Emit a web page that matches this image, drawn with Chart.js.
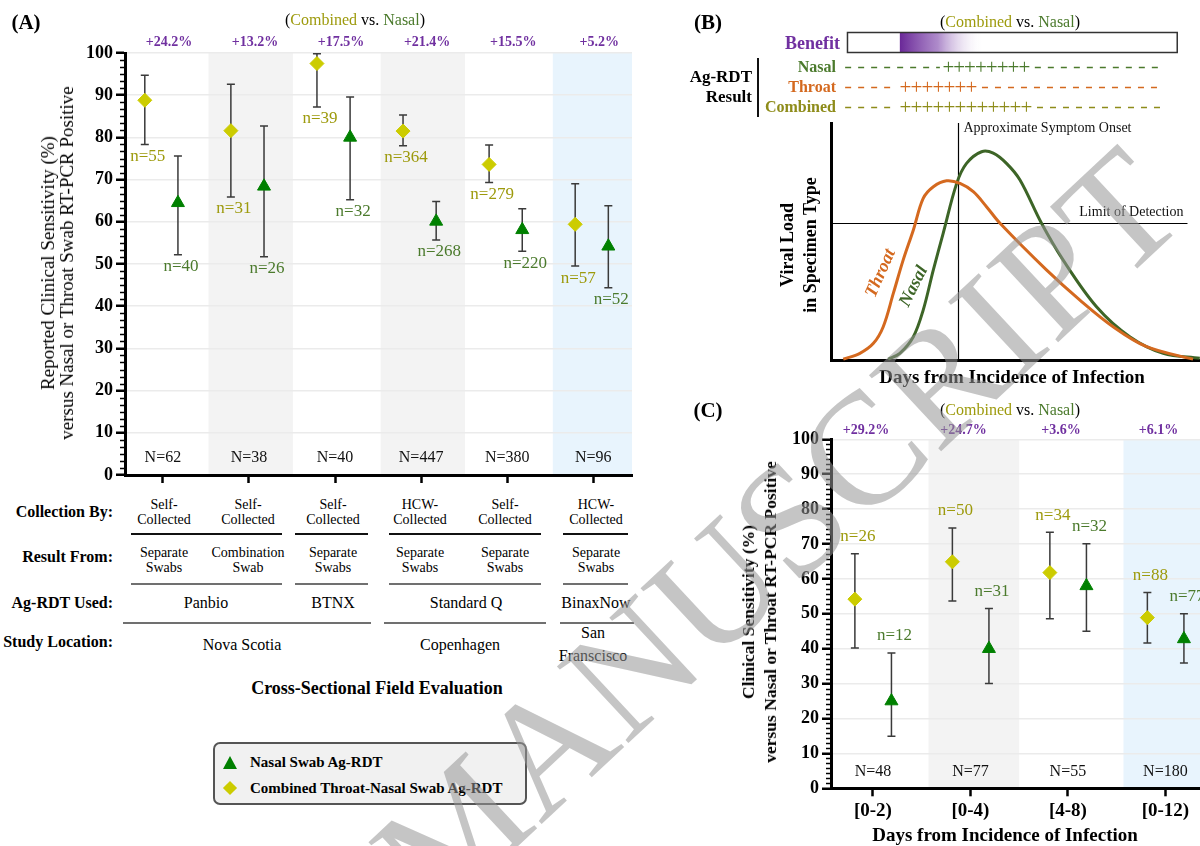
<!DOCTYPE html>
<html><head><meta charset="utf-8">
<script src="https://cdn.jsdelivr.net/npm/chart.js@4/dist/chart.umd.min.js"></script>
<style>
html,body{margin:0;padding:0;background:#fff;}
#wrap{position:relative;width:1200px;height:846px;overflow:hidden;background:#fff;font-family:'Liberation Serif','Times New Roman',serif;}
.abs{position:absolute;white-space:nowrap;line-height:1;}
canvas{position:absolute;}
.hl{position:absolute;}
#wm{position:absolute;left:0;top:0;font-family:'Liberation Serif',serif;font-size:160px;line-height:1;color:rgba(150,150,150,0.55);white-space:nowrap;transform-origin:0 0;pointer-events:none;z-index:20;}
</style></head><body>
<div id="wrap">
<canvas id="cA" width="645" height="490" style="left:0;top:0"></canvas>
<canvas id="cB" width="540" height="392" style="left:680px;top:0"></canvas>
<canvas id="cC" width="560" height="440" style="left:680px;top:390px"></canvas>
<div id="wm">MANUSCRIPT</div>
</div>
<script>
// ---------------- DATA ----------------
// Panel A: cross-sectional field evaluations
const aGroups = ['Panbio NS self sep','Panbio NS self combo','BTNX NS self','Standard Q CPH HCW','Standard Q CPH self','BinaxNow SF HCW'];
const aCombined   = [88.8, 81.6, 97.5, 81.5, 73.6, 59.4];
const aCombinedLo = [78.3, 65.9, 87.2, 78.0, 69.3, 49.5];
const aCombinedHi = [94.7, 92.6, 99.8, 85.3, 78.2, 69.0];
const aNasal      = [64.5, 68.4, 80.0, 60.1, 58.1, 54.2];
const aNasalLo    = [52.2, 51.7, 65.2, 55.7, 53.0, 44.4];
const aNasalHi    = [75.6, 82.7, 89.6, 64.8, 63.1, 63.8];
const aCombinedN  = [55, 31, 39, 364, 279, 57];
const aNasalN     = [40, 26, 32, 268, 220, 52];
const aTotalN     = [62, 38, 40, 447, 380, 96];
const aBenefit    = ['+24.2%','+13.2%','+17.5%','+21.4%','+15.5%','+5.2%'];
const aYTicks     = [0,10,20,30,40,50,60,70,80,90,100];
const collectionBy = ['Self-<br>Collected','Self-<br>Collected','Self-<br>Collected','HCW-<br>Collected','Self-<br>Collected','HCW-<br>Collected'];
const resultFrom   = ['Separate<br>Swabs','Combination<br>Swab','Separate<br>Swabs','Separate<br>Swabs','Separate<br>Swabs','Separate<br>Swabs'];
const agRdtUsed    = ['Panbio','BTNX','Standard Q','BinaxNow'];
const studyLocation = ['Nova Scotia','Copenhagen','San<br>Franscisco'];

// Panel B: schematic viral load curves
const bThroatDay  = [0.40,0.94,1.38,1.70,2.03,2.35,2.68,3.00,3.33,3.76,4.20,4.63,5.06,5.50,7.01,8.10,9.18,10.27,11.78];
const bThroatLoad = [0.06,0.31,0.73,1.43,2.84,4.24,5.50,6.83,7.32,7.57,7.46,7.11,6.48,5.78,3.82,2.55,1.43,0.59,0.06];
const bNasalDay   = [1.86,2.24,2.68,3.00,3.33,3.65,4.09,4.41,4.90,5.28,5.71,6.15,6.85,7.55,8.64,9.72,10.81,12.0];
const bNasalLoad  = [0.06,0.31,1.01,2.13,3.82,5.36,7.46,8.30,8.79,8.73,8.30,7.60,5.78,4.24,2.27,1.01,0.31,0.10];
const bSymptomOnsetDay = 4.12;
const bLimitOfDetection = 5.78;
const bNasalPositive    = [3.64, 6.47];
const bThroatPositive   = [2.24, 4.75];
const bCombinedPositive = [2.24, 6.54];
const bBenefitWindow    = [2.24, 5.0];
const bResultRowSpan    = [0.46, 10.8];
const bBenefitBarSpan   = [0.52, 11.25];

// Panel C: days from incidence of infection
const cCats        = ['[0-2)','[0-4)','[4-8)','[0-12)'];
const cCombined    = [54.2, 64.9, 61.8, 48.9];
const cCombinedLo  = [40.2, 53.7, 48.6, 41.6];
const cCombinedHi  = [67.2, 74.6, 73.4, 56.1];
const cNasal       = [25.0, 40.0, 58.0, 42.8];
const cNasalLo     = [14.9, 30.0, 45.0, 35.9];
const cNasalHi     = [38.8, 51.5, 70.1, 50.0];
const cCombinedN   = [26, 50, 34, 88];
const cNasalN      = [12, 31, 32, 77];
const cTotalN      = [48, 77, 55, 180];
const cBenefit     = ['+29.2%','+24.7%','+3.6%','+6.1%'];

// ---------------- STYLE ----------------
const SERIF = "'Liberation Serif','Times New Roman',serif";
const PURPLE = '#7030A0', OLIVE_T = '#9D9A0C', GREEN_T = '#4B7A2C', DIAMOND = '#CCCC00', TRI = '#008000';
const THROAT = '#D4691F', NASALC = '#3D6527';
Chart.defaults.font.family = SERIF;
const wrap = document.getElementById('wrap');

function addText(html, x, y, o = {}) {
  const d = document.createElement('div');
  d.className = 'abs';
  d.innerHTML = html;
  d.style.left = x + 'px'; d.style.top = y + 'px';
  d.style.font = (o.italic ? 'italic ' : '') + (o.bold ? 'bold ' : '') + (o.size || 16) + 'px ' + SERIF;
  d.style.color = o.color || '#000';
  if (o.lh) d.style.lineHeight = o.lh + 'px';
  d.style.textAlign = o.ta || 'center';
  const ax = o.align === 'left' ? '0' : o.align === 'right' ? '-100%' : '-50%';
  d.style.transform = `translate(${ax},-50%)` + (o.rot ? ` rotate(${o.rot}deg)` : '');
  wrap.appendChild(d);
  return d;
}
function hline(x1, x2, y, w, c) {
  const d = document.createElement('div');
  d.className = 'hl';
  Object.assign(d.style, {left: x1 + 'px', top: (y - w / 2) + 'px', width: (x2 - x1) + 'px', height: w + 'px', background: c});
  wrap.appendChild(d);
}
function vline(x, y1, y2, w, c) {
  const d = document.createElement('div');
  d.className = 'hl';
  Object.assign(d.style, {left: (x - w / 2) + 'px', top: y1 + 'px', width: w + 'px', height: (y2 - y1) + 'px', background: c});
  wrap.appendChild(d);
}

// ---------------- SENSITIVITY PANEL PLUGIN ----------------
function sensPlugin(o) {
  return {
    id: 'sens' + o.id,
    beforeDraw(chart) {
      const {ctx, chartArea: a, scales: {x}} = chart;
      ctx.save();
      o.bands.forEach((c, i) => {
        if (!c) return;
        const x1 = Math.max(a.left + 1, x.getPixelForValue(i + o.bandShift - o.bandHalf));
        const x2 = Math.min(a.right, x.getPixelForValue(i + o.bandShift + o.bandHalf));
        ctx.fillStyle = c;
        ctx.fillRect(x1, a.top, x2 - x1, a.bottom - a.top);
      });
      ctx.restore();
    },
    beforeDatasetsDraw(chart) {
      const {ctx, scales: {x, y}} = chart;
      ctx.save();
      ctx.strokeStyle = '#3a3a3a'; ctx.lineWidth = 1.5;
      o.series.forEach(s => {
        s.lo.forEach((lo, i) => {
          const px = x.getPixelForValue(i + s.off);
          const p1 = y.getPixelForValue(lo), p2 = y.getPixelForValue(s.hi[i]);
          ctx.beginPath();
          ctx.moveTo(px, p1); ctx.lineTo(px, p2);
          ctx.moveTo(px - 4, p1); ctx.lineTo(px + 4, p1);
          ctx.moveTo(px - 4, p2); ctx.lineTo(px + 4, p2);
          ctx.stroke();
        });
      });
      ctx.restore();
    },
    afterDraw(chart) {
      const {ctx, chartArea: a, scales: {x, y}} = chart;
      ctx.save();
      // minor ticks
      ctx.strokeStyle = '#000'; ctx.lineWidth = 1.5;
      for (let v = 0; v <= 100.001; v += o.minorStep) {
        if (Math.abs(v / 10 - Math.round(v / 10)) < 1e-6) continue;
        const py = Math.round(y.getPixelForValue(v)) + 0.5;
        ctx.beginPath(); ctx.moveTo(a.left - 5, py); ctx.lineTo(a.left, py); ctx.stroke();
      }
      ctx.textAlign = 'center'; ctx.textBaseline = 'middle';
      // benefit labels
      ctx.font = `bold 14px ${SERIF}`; ctx.fillStyle = PURPLE;
      o.pct.forEach((t, i) => ctx.fillText(t, x.getPixelForValue(i + o.pctShift), a.top - o.pctGap));
      // total N
      ctx.font = `16px ${SERIF}`; ctx.fillStyle = '#111';
      o.totalN.forEach((n, i) => ctx.fillText('N=' + n, x.getPixelForValue(i), y.getPixelForValue(o.totalNY)));
      // n labels
      ctx.font = `17px ${SERIF}`;
      o.series.forEach(s => {
        ctx.fillStyle = s.labelColor;
        s.n.forEach((n, i) => {
          const px = x.getPixelForValue(i + s.off) + 3;
          const py = o.nBelow ? y.getPixelForValue(s.lo[i]) + 12 : y.getPixelForValue(s.hi[i]) - 17;
          ctx.fillText('n=' + n, px, py);
        });
      });
      ctx.restore();
    }
  };
}

function sensChart(id, o) {
  const mk = (vals, off) => vals.map((v, i) => ({x: i + off, y: v}));
  return new Chart(document.getElementById(id), {
    type: 'scatter',
    data: {datasets: [
      {label: 'Combined Throat-Nasal Swab Ag-RDT', data: mk(o.series[0].v, o.series[0].off), pointStyle: 'rectRot', pointRadius: 7, pointHoverRadius: 7, backgroundColor: DIAMOND, borderColor: DIAMOND},
      {label: 'Nasal Swab Ag-RDT', data: mk(o.series[1].v, o.series[1].off), pointStyle: 'triangle', pointRadius: 7.5, pointHoverRadius: 7.5, backgroundColor: TRI, borderColor: TRI}
    ]},
    options: {
      responsive: false, animation: false, devicePixelRatio: 1,
      layout: {padding: o.padding},
      plugins: {legend: {display: false}, tooltip: {enabled: false}},
      scales: {
        x: {type: 'linear', min: o.xmin, max: o.xmax,
          afterBuildTicks: s => { s.ticks = o.cats.map((_, i) => ({value: i})); },
          ticks: {display: o.showXLabels, autoSkip: false, maxRotation: 0, padding: 3, color: '#000',
                  font: {family: SERIF, size: 19, weight: 'bold'}, callback: v => o.cats[v]},
          grid: {display: true, drawOnChartArea: false, drawTicks: true, tickLength: 8, tickWidth: 2.5, tickColor: '#000'},
          border: {display: true, color: '#000', width: 3},
          afterFit: s => { s.height = o.xHeight; }},
        y: {min: 0, max: 100,
          afterBuildTicks: s => { s.ticks = o.yTicks.map(v => ({value: v})); },
          ticks: {color: '#000', padding: 3, font: {family: SERIF, size: 18, weight: 'bold'}},
          grid: {color: '#ebebeb', lineWidth: 1.5, tickColor: '#000', tickLength: 9, tickWidth: 2.5},
          border: {color: '#000', width: 3},
          afterFit: s => { s.width = 60; }}
      }
    },
    plugins: [sensPlugin(o)]
  });
}

// Panel A chart
sensChart('cA', {
  id: 'A', cats: aGroups, xmin: -0.44, xmax: 5.45, showXLabels: false, xHeight: 12,
  padding: {left: 65, right: 13, top: 53, bottom: 3}, yTicks: aYTicks,
  bands: [null, '#f3f3f3', null, '#f3f3f3', null, '#e8f4fd'], bandShift: 0.02, bandHalf: 0.49,
  minorStep: 10 / 6, pct: aBenefit, pctShift: 0.07, pctGap: 11, totalN: aTotalN, totalNY: 4, nBelow: true,
  series: [
    {v: aCombined, lo: aCombinedLo, hi: aCombinedHi, n: aCombinedN, off: -0.21, labelColor: OLIVE_T},
    {v: aNasal, lo: aNasalLo, hi: aNasalHi, n: aNasalN, off: 0.175, labelColor: GREEN_T}
  ]
});

// Panel C chart
sensChart('cC', {
  id: 'C', cats: cCats, xmin: -0.43, xmax: 3.56, showXLabels: true, xHeight: 32,
  padding: {left: 91, right: 20, top: 49.3, bottom: 9.7}, yTicks: aYTicks,
  bands: [null, '#f3f3f3', null, '#e8f4fd'], bandShift: 0.035, bandHalf: 0.465,
  minorStep: 10 / 7, pct: cBenefit, pctShift: -0.07, pctGap: 9, totalN: cTotalN, totalNY: 4.6, nBelow: false,
  series: [
    {v: cCombined, lo: cCombinedLo, hi: cCombinedHi, n: cCombinedN, off: -0.185, labelColor: OLIVE_T},
    {v: cNasal, lo: cNasalLo, hi: cNasalHi, n: cNasalN, off: 0.19, labelColor: GREEN_T}
  ]
});

// Panel B chart
const bPlugin = {
  id: 'bSchematic',
  beforeDatasetsDraw(chart) {
    const {ctx, chartArea: a, scales: {x, y}} = chart;
    ctx.save();
    ctx.strokeStyle = '#000'; ctx.lineWidth = 1.2;
    const sx = Math.round(x.getPixelForValue(bSymptomOnsetDay)) + 0.5;
    ctx.beginPath(); ctx.moveTo(sx, a.top); ctx.lineTo(sx, a.bottom); ctx.stroke();
    const ly = Math.round(y.getPixelForValue(bLimitOfDetection)) + 0.5;
    ctx.beginPath(); ctx.moveTo(a.left, ly); ctx.lineTo(x.getPixelForValue(11.6), ly); ctx.stroke();
    ctx.fillStyle = '#111'; ctx.font = `14px ${SERIF}`; ctx.textBaseline = 'middle';
    ctx.textAlign = 'left'; ctx.fillText('Approximate Symptom Onset', sx + 5, a.top + 5);
    ctx.textAlign = 'right'; ctx.fillText('Limit of Detection', x.getPixelForValue(11.47), ly - 11);
    ctx.restore();
  },
  afterDraw(chart) {
    const {ctx, scales: {x}} = chart;
    ctx.save();
    // benefit bar
    const b0 = x.getPixelForValue(bBenefitBarSpan[0]), b1 = x.getPixelForValue(bBenefitBarSpan[1]);
    const g0 = x.getPixelForValue(bBenefitWindow[0]), g1 = x.getPixelForValue(bBenefitWindow[1]);
    const grad = ctx.createLinearGradient(g0, 0, g1, 0);
    grad.addColorStop(0, 'rgba(106,40,152,1)');
    grad.addColorStop(0.45, 'rgba(140,90,180,0.7)');
    grad.addColorStop(1, 'rgba(255,255,255,0)');
    ctx.fillStyle = grad; ctx.fillRect(g0, 33, g1 - g0, 19);
    ctx.strokeStyle = '#333'; ctx.lineWidth = 1.5; ctx.strokeRect(b0 + 0.5, 32.5, b1 - b0, 20);
    // result rows
    const rows = [
      {pos: bNasalPositive, color: '#4B7A2C', y: 67},
      {pos: bThroatPositive, color: '#D4691F', y: 87},
      {pos: bCombinedPositive, color: '#8E8C1A', y: 107}
    ];
    const xs = x.getPixelForValue(bResultRowSpan[0]), xe = x.getPixelForValue(bResultRowSpan[1]);
    rows.forEach(r => {
      const p1 = x.getPixelForValue(r.pos[0]), p2 = x.getPixelForValue(r.pos[1]);
      ctx.strokeStyle = r.color; ctx.lineWidth = 1.3; ctx.setLineDash([6, 7]);
      ctx.beginPath(); ctx.moveTo(xs, r.y + 0.5); ctx.lineTo(p1 - 3, r.y + 0.5); ctx.stroke();
      ctx.beginPath(); ctx.moveTo(p2 + 5, r.y + 0.5); ctx.lineTo(xe, r.y + 0.5); ctx.stroke();
      ctx.setLineDash([]);
      const n = Math.round((p2 - p1) / 11), step = (p2 - p1) / n;
      ctx.fillStyle = r.color; ctx.font = `21px ${SERIF}`; ctx.textAlign = 'center'; ctx.textBaseline = 'middle';
      for (let k = 0; k < n; k++) ctx.fillText('+', p1 + step * (k + 0.5), r.y + 1);
    });
    ctx.restore();
  }
};
new Chart(document.getElementById('cB'), {
  type: 'scatter',
  data: {datasets: [
    {label: 'Throat', data: bThroatDay.map((d, i) => ({x: d, y: bThroatLoad[i]})), showLine: true, borderColor: THROAT, borderWidth: 3, pointRadius: 0, tension: 0.35, fill: false},
    {label: 'Nasal', data: bNasalDay.map((d, i) => ({x: d, y: bNasalLoad[i]})), showLine: true, borderColor: NASALC, borderWidth: 3, pointRadius: 0, tension: 0.35, fill: false}
  ]},
  options: {
    responsive: false, animation: false, devicePixelRatio: 1,
    layout: {padding: {left: 151, right: 11, top: 123, bottom: 31.3}},
    plugins: {legend: {display: false}, tooltip: {enabled: false}},
    scales: {
      x: {type: 'linear', min: 0, max: 12.3, ticks: {display: false}, grid: {display: false}, border: {display: true, color: '#000', width: 3}, afterFit: s => { s.height = 0; }},
      y: {min: 0, max: 10, ticks: {display: false}, grid: {display: false}, border: {display: true, color: '#000', width: 3}, afterFit: s => { s.width = 0; }}
    }
  },
  plugins: [bPlugin]
});

// ---------------- TEXT: PANEL A ----------------
const cv = '(<span style="color:' + OLIVE_T + '">Combined</span> vs. <span style="color:' + GREEN_T + '">Nasal</span>)';
addText('(A)', 26, 22, {bold: true, size: 21});
addText(cv, 355, 20, {size: 16});
addText('Reported Clinical Sensitivity (%)<br>versus Nasal or Throat Swab RT-PCR Positive', 57, 263, {size: 19, lh: 19, rot: -90});
const colX = [164, 248, 333, 420, 505, 596];
addText('Collection By:', 113, 512, {bold: true, size: 16, align: 'right'});
addText('Result From:', 113, 557, {bold: true, size: 16, align: 'right'});
addText('Ag-RDT Used:', 113, 603, {bold: true, size: 16, align: 'right'});
addText('Study Location:', 113, 642, {bold: true, size: 16, align: 'right'});
collectionBy.forEach((t, i) => addText(t, colX[i], 512, {size: 14, lh: 15}));
resultFrom.forEach((t, i) => addText(t, colX[i], 560, {size: 14, lh: 15}));
const rdtX = [206, 333, 466, 596];
agRdtUsed.forEach((t, i) => addText(t, rdtX[i], 603, {size: 16}));
const locX = [242, 460, 593];
studyLocation.forEach((t, i) => addText(t, locX[i], 644, {size: 16, lh: 23}));
addText('Cross-Sectional Field Evaluation', 377, 688, {bold: true, size: 18});
[[131, 282], [295, 368], [389, 541], [563, 628]].forEach(s => hline(s[0], s[1], 534, 1.6, '#111'));
[[131, 282], [295, 368], [389, 541], [563, 628]].forEach(s => hline(s[0], s[1], 584, 2.5, '#707070'));
[[123, 371], [384, 546], [560, 634]].forEach(s => hline(s[0], s[1], 623, 2.5, '#707070'));

// legend
const lg = document.createElement('div');
Object.assign(lg.style, {position: 'absolute', left: '213px', top: '742px', width: '310px', height: '59px', border: '2px solid #555', borderRadius: '7px', background: '#f1f1f1'});
wrap.appendChild(lg);
const tri = document.createElement('div');
Object.assign(tri.style, {position: 'absolute', left: '223px', top: '756px', width: 0, height: 0, borderLeft: '7px solid transparent', borderRight: '7px solid transparent', borderBottom: '13px solid ' + TRI});
wrap.appendChild(tri);
const dia = document.createElement('div');
Object.assign(dia.style, {position: 'absolute', left: '225px', top: '783px', width: '10px', height: '10px', background: DIAMOND, transform: 'rotate(45deg)'});
wrap.appendChild(dia);
addText('Nasal Swab Ag-RDT', 250, 762, {bold: true, size: 15, align: 'left'});
addText('Combined Throat-Nasal Swab Ag-RDT', 250, 788, {bold: true, size: 15, align: 'left'});

// ---------------- TEXT: PANEL B ----------------
addText('(B)', 708, 22, {bold: true, size: 21});
addText(cv, 1010, 22, {size: 16});
addText('Benefit', 840, 43, {bold: true, size: 18, color: PURPLE, align: 'right'});
addText('Ag-RDT', 752, 77, {bold: true, size: 17, align: 'right'});
addText('Result', 752, 97, {bold: true, size: 17, align: 'right'});
vline(758, 58, 117, 1.6, '#111');
addText('Nasal', 836, 67, {bold: true, size: 16, color: '#4B7A2C', align: 'right'});
addText('Throat', 836, 87, {bold: true, size: 16, color: '#D4691F', align: 'right'});
addText('Combined', 836, 107, {bold: true, size: 16, color: '#8E8C1A', align: 'right'});
addText('Viral Load<br>in Specimen Type', 799, 245, {bold: true, size: 18, lh: 23, rot: -90});
addText('Days from Incidence of Infection', 1012, 377, {bold: true, size: 19});
addText('Throat', 880, 273, {bold: true, italic: true, size: 18, color: THROAT, rot: -66});
addText('Nasal', 913, 286, {bold: true, italic: true, size: 18, color: NASALC, rot: -63});

// ---------------- TEXT: PANEL C ----------------
addText('(C)', 708, 410, {bold: true, size: 21});
addText(cv, 1010, 410, {size: 16});
addText('Clinical Sensitivity (%)<br>versus Nasal or Throat RT-PCR Positive', 759, 612, {bold: true, size: 17.5, lh: 22, rot: -90});
addText('Days from Incidence of Infection', 1005, 835, {bold: true, size: 19});

// watermark
document.getElementById('wm').style.transform = 'translate(345px,824px) rotate(-43deg)';
</script>
</body></html>
